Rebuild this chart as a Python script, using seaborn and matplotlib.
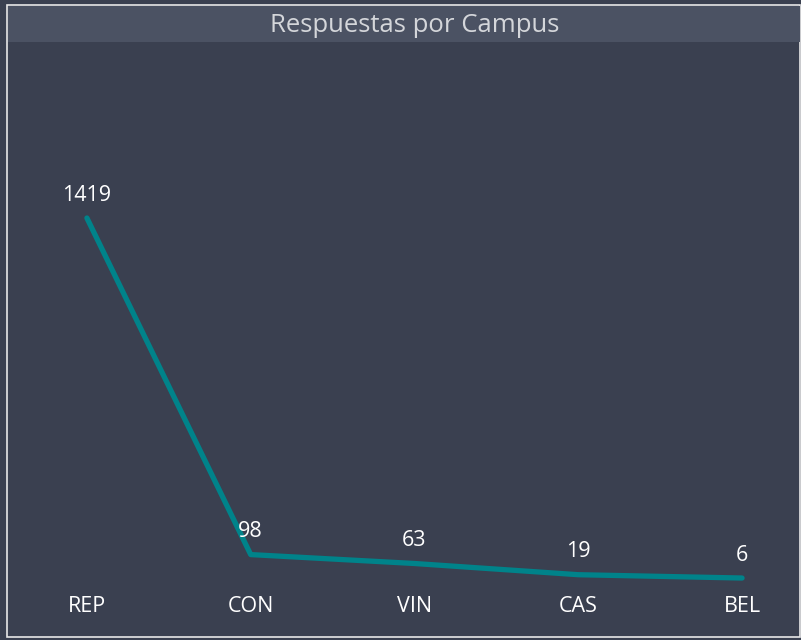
import seaborn as sns
import matplotlib.pyplot as plt
import matplotlib.patches as mpatches
import matplotlib.transforms as mtransforms
import pandas as pd

campus = ['REP', 'CON', 'VIN', 'CAS', 'BEL']
respuestas = [1419, 98, 63, 19, 6]

df = pd.DataFrame({'campus': campus, 'respuestas': respuestas})

bg = '#3a4050'
bar = '#4b5263'
teal = '#00838a'

sns.set_style('dark')
plt.rcParams['font.family'] = ['Open Sans', 'DejaVu Sans']

W, H = 801, 640
fig = plt.figure(figsize=(8.01, 6.40), dpi=100, facecolor=bg)

# panel border and title bar (pixel coords -> figure fraction)
fig.patches.append(mpatches.Rectangle((7 / W, 1 - 637 / H), 793 / W, 632 / H,
                                      transform=fig.transFigure, fill=False,
                                      edgecolor='#e8e8e8', linewidth=1.2))
fig.patches.append(mpatches.Rectangle((8 / W, 1 - 42 / H), 792 / W, 36 / H,
                                      transform=fig.transFigure, facecolor=bar,
                                      edgecolor='none'))
fig.text(415 / W, 1 - 26 / H, 'Respuestas por Campus', ha='center', va='center',
         color='#d4d6da', fontsize=18.5)

ax = fig.add_axes([20 / W, 1 - 630 / H, 770 / W, 585 / H])
ax.set_facecolor(bg)
sns.lineplot(data=df, x='campus', y='respuestas', ax=ax, color=teal,
             linewidth=3.8, sort=False, solid_capstyle='round')

ax.set_xlim(-0.4085, 4.2927)
ax.set_ylim(-198, 2098)
ax.set_xlabel('')
ax.set_ylabel('')
ax.set_xticks([])
ax.set_yticks([])
for s in ax.spines.values():
    s.set_visible(False)
ax.grid(False)

for i, (c, v) in enumerate(zip(campus, respuestas)):
    ax.annotate(str(v), (i, v), xytext=(0, 9), textcoords='offset points',
                ha='center', va='bottom', color='white', fontsize=15.5)

lab_tr = mtransforms.blended_transform_factory(ax.transData, fig.transFigure)
for i, c in enumerate(campus):
    ax.text(i, 1 - 607 / H, c, transform=lab_tr, ha='center', va='center',
            color='white', fontsize=15.5)

fig.savefig('out.png', dpi=100, facecolor=bg)
